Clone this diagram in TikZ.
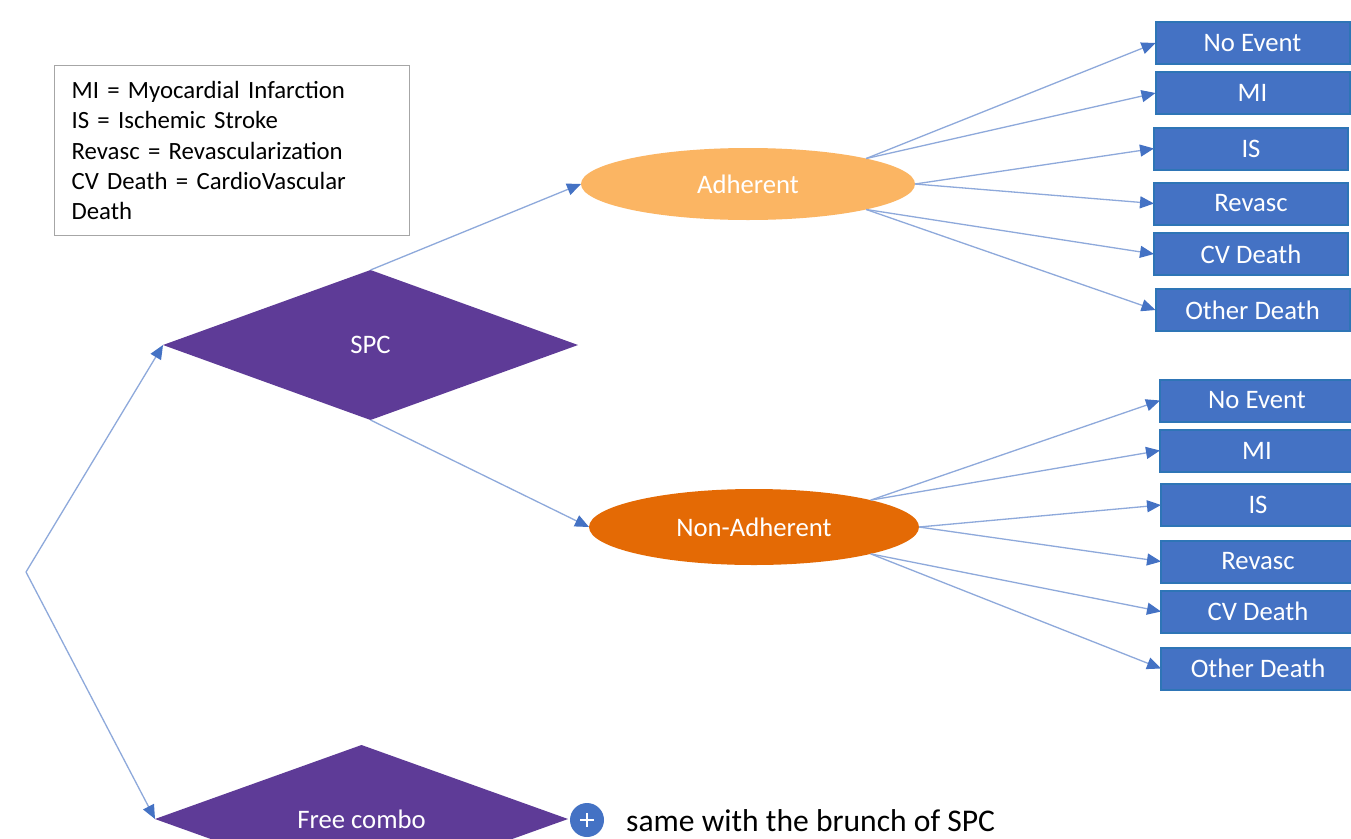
\documentclass[tikz,border=0pt]{standalone}
\usepackage{fontspec}
\setmainfont{Carlito}
\usetikzlibrary{shapes.geometric,arrows.meta}
\definecolor{boxblue}{HTML}{4472C4}
\definecolor{boxedge}{HTML}{2E75B6}
\definecolor{linkblue}{HTML}{8EA9DB}
\definecolor{spcpurple}{HTML}{5E3B97}
\definecolor{adhcol}{HTML}{FBB563}
\definecolor{nadhcol}{HTML}{E46A05}
\definecolor{legendedge}{HTML}{A6A6A6}
\tikzset{
  outbox/.style={draw=boxedge, line width=2pt, fill=boxblue, text=white,
    minimum width=194pt, minimum height=42pt, inner sep=0pt, outer sep=0pt,
    font=\fontsize{26.7}{32}\selectfont},
  link/.style={draw=linkblue, line width=1.3pt,
    -{Triangle[length=14pt,width=12pt,color=boxblue]}},
  decision/.style={diamond, fill=spcpurple, text=white, inner sep=0pt, outer sep=0pt,
    font=\fontsize{26.7}{32}\selectfont},
  oval/.style={ellipse, text=white, inner sep=0pt, outer sep=0pt,
    font=\fontsize{26.7}{32}\selectfont},
  legendbox/.style={draw=legendedge, line width=1.2pt, fill=white, align=left,
    text width=321pt, inner sep=0pt, minimum width=355pt, minimum height=170pt,
    font=\fontsize{24.8}{30.3}\selectfont},
}
\begin{document}
\begin{tikzpicture}[x=1pt,y=-1pt]
\useasboundingbox (0,0) rectangle (1351,838);
\clip (0,0) rectangle (1351,838);
\fill[white] (0,0) rectangle (1351,838);

% legend
\node[legendbox, anchor=north west] (legend) at (54,65)
  {MI = Myocardial Infarction\\IS = Ischemic Stroke\\Revasc = Revascularization\\CV Death = CardioVascular\\Death};

% root
\coordinate (root) at (26,572);

% decisions
\node[decision, minimum width=415pt, minimum height=150pt] (spc) at (370.5,345) {SPC};
\node[decision, minimum width=413pt, minimum height=148pt] (free) at (361.5,819) {Free combo};

% ovals
\node[oval, fill=adhcol, minimum width=334pt, minimum height=72pt] (ad) at (748,184) {Adherent};
\node[oval, fill=nadhcol, minimum width=330pt, minimum height=76pt] (nad) at (754,527) {Non-Adherent};

% top outcome boxes
\node[outbox] (a1) at (1252.5,43) {No Event};
\node[outbox] (a2) at (1252.5,93) {MI};
\node[outbox] (a3) at (1251,148.5) {IS};
\node[outbox] (a4) at (1251,203.5) {Revasc};
\node[outbox] (a5) at (1251,254) {CV Death};
\node[outbox] (a6) at (1252.5,310) {Other Death};

% bottom outcome boxes
\node[outbox] (b1) at (1257,400.5) {No Event};
\node[outbox] (b2) at (1257,450.5) {MI};
\node[outbox] (b3) at (1258,505) {IS};
\node[outbox] (b4) at (1258,561.5) {Revasc};
\node[outbox] (b5) at (1258,611.5) {CV Death};
\node[outbox] (b6) at (1258,668.5) {Other Death};

% plus and note
\node[circle, fill=boxblue, minimum size=34pt, inner sep=0pt] (plus) at (587,820) {};
\draw[white, line width=2.6pt] (plus.center) ++(-7,0) -- ++(14,0);
\draw[white, line width=2.6pt] (plus.center) ++(0,-7) -- ++(0,14);
\node[anchor=west, inner sep=0pt, font=\fontsize{31.6}{38}\selectfont] (note) at (626,821)
  {same with the brunch of SPC};

% connectors
\draw[link] (root) -- (spc.west);
\draw[link] (root) -- (free.west);
\draw[link] (spc.north) -- (ad.west);
\draw[link] (spc.south) -- (nad.west);

\draw[link] (ad.north east) -- (a1.west);
\draw[link] (ad.north east) -- (a2.west);
\draw[link] (ad.east) -- (a3.west);
\draw[link] (ad.east) -- (a4.west);
\draw[link] (ad.south east) -- (a5.west);
\draw[link] (ad.south east) -- (a6.west);

\draw[link] (nad.north east) -- (b1.west);
\draw[link] (nad.north east) -- (b2.west);
\draw[link] (nad.east) -- (b3.west);
\draw[link] (nad.east) -- (b4.west);
\draw[link] (nad.south east) -- (b5.west);
\draw[link] (nad.south east) -- (b6.west);
\end{tikzpicture}
\end{document}
